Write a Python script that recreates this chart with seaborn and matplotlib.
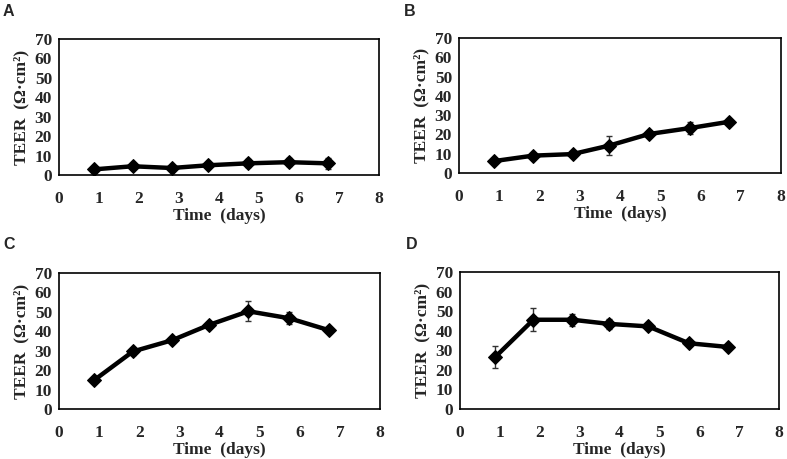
import seaborn as sns
import matplotlib.pyplot as plt
import pandas as pd

# Data
days = [0.88, 1.84, 2.82, 3.73, 4.72, 5.74, 6.72]
teer_a = [2.9, 4.5, 3.6, 5.0, 6.0, 6.6, 6.0]
err_a = [1.0, 1.0, 1.0, 1.3, 2.0, 2.0, 3.0]
teer_b = [6.2, 9.0, 9.8, 14.2, 20.2, 23.3, 26.6]
err_b = [1.0, 1.0, 1.0, 5.0, 1.5, 3.3, 1.0]
teer_c = [14.9, 29.6, 35.4, 43.2, 50.3, 46.7, 40.6]
err_c = [1.0, 2.0, 1.5, 1.5, 5.2, 3.0, 1.0]
teer_d = [26.5, 45.6, 45.6, 43.5, 42.2, 33.6, 31.7]
err_d = [5.8, 5.8, 3.0, 2.5, 1.5, 1.0, 1.0]
panels = ['A', 'B', 'C', 'D']

sns.set_style("white")
plt.rcParams['font.family'] = ['Liberation Serif', 'DejaVu Serif']

fig = plt.figure(figsize=(7.87, 4.59), dpi=100)

# axes rectangles in pixels: left, top, right, bottom
rects = [(59, 39, 379, 175), (459, 38, 781, 173),
         (59, 273, 380, 409), (460, 272, 779, 409)]
# panel letter positions in pixels (left, centre y)
letters = [(3, 12), (404, 12), (3, 245), (406, 245)]
series = [(teer_a, err_a), (teer_b, err_b), (teer_c, err_c), (teer_d, err_d)]

for name, (l, t, r, b), (lx, ly), (vals, errs) in zip(panels, rects, letters, series):
    ax = fig.add_axes([l / 787, 1 - b / 459, (r - l) / 787, (b - t) / 459])
    df = pd.DataFrame({'day': days, 'teer': vals})
    ax.errorbar(days, vals, yerr=errs, fmt='none', ecolor='#333333',
                elinewidth=1, capsize=2.5, capthick=1, zorder=1)
    sns.lineplot(data=df, x='day', y='teer', ax=ax, color='black',
                 linewidth=3.2, marker='D', markersize=7.5, markeredgecolor='black',
                 zorder=2)
    ax.set_xlim(0, 8)
    ax.set_ylim(0, 70)
    ax.set_xticks(range(0, 9))
    ax.set_yticks(range(0, 71, 10))
    for s in ax.spines.values():
        s.set_color('black')
        s.set_linewidth(1.2)
    ax.tick_params(axis='both', direction='out', length=4.5, width=1.2,
                   color='black', labelsize=12.5, pad=0.5)
    ax.tick_params(axis='x', pad=7)
    for lab in ax.get_xticklabels() + ax.get_yticklabels():
        lab.set_fontweight('bold')
    ax.set_xlabel('Time  (days)', fontsize=12.5, fontweight='bold', labelpad=1)
    ax.set_ylabel('TEER  (Ω·cm²)', fontsize=12.5, fontweight='bold', labelpad=4)
    fig.text(lx / 787, 1 - ly / 459, name,
             family=['Liberation Sans', 'DejaVu Sans'], fontweight='bold',
             fontsize=11.5, va='center', ha='left')

fig.savefig('out.png', dpi=100)
